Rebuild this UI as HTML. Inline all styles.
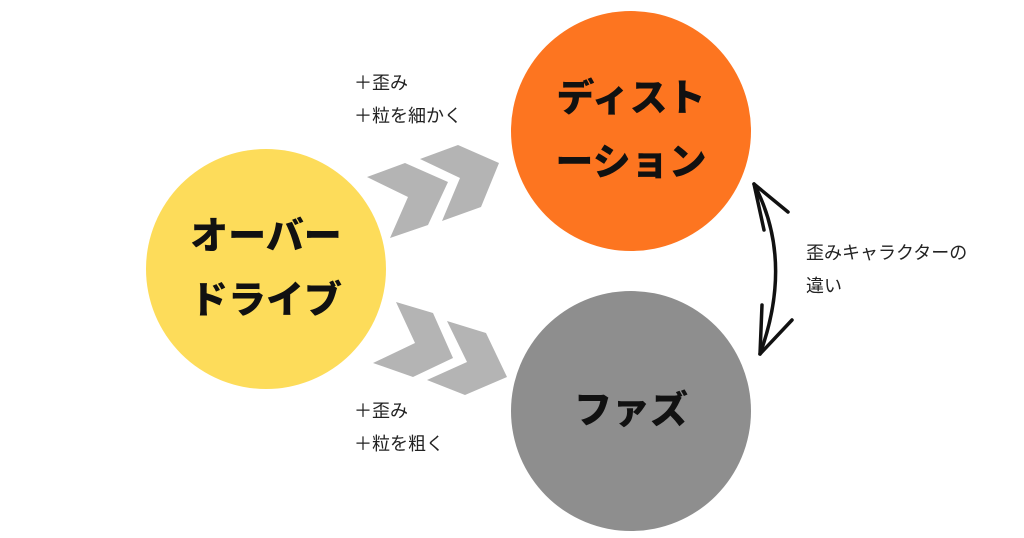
<!DOCTYPE html>
<html><head><meta charset="utf-8"><style>
body{margin:0;width:1024px;height:538px;background:#fff;overflow:hidden;position:relative;font-family:"Liberation Sans","Noto Sans CJK JP",sans-serif}
.c{position:absolute;border-radius:50%;display:flex;align-items:center;justify-content:center;text-align:center;font-weight:900;font-size:38px;line-height:64px;color:#111}
.t{position:absolute;font-size:18px;line-height:33px;color:#222}
</style></head><body>
<div class="c" style="left:146px;top:149px;width:240px;height:240px;background:#fddc5a">オーバー<br>ドライブ</div>
<div class="c" style="left:511px;top:11px;width:240px;height:240px;background:#fd7520">ディスト<br>ーション</div>
<div class="c" style="left:511px;top:291px;width:240px;height:240px;background:#8e8e8e">ファズ</div>
<svg style="position:absolute;left:0;top:0" width="1024" height="538">
<g fill="#b4b4b4">
<polygon points="367,177 405,163 448,182 428,225 390,238 408,197"/>
<polygon points="420,159 458,145 499,163 481,207 442,221 460,178"/>
<polygon points="396,302 433,313 453,358 413,377 373,363 415,343"/>
<polygon points="447,321 486,333 507,377 465,395 427,380 467,362"/>
</g>
<g fill="none" stroke="#111" stroke-width="3.5" stroke-linecap="round">
<path d="M754,184 Q794,260 760,354"/>
<path d="M754,184 L764,230 M754,184 L788,212"/>
<path d="M760,354 L762,305 M760,354 L792,320"/>
</g>
</svg>
<div class="t" style="left:354px;top:67px">＋歪み<br>＋粒を細かく</div>
<div class="t" style="left:354px;top:395px">＋歪み<br>＋粒を粗く</div>
<div class="t" style="left:806px;top:237px">歪みキャラクターの<br>違い</div>
</body></html>
